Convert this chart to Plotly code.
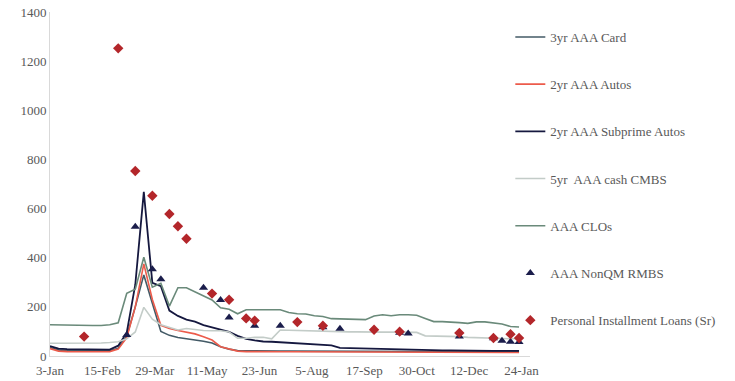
import pandas as pd
import plotly.graph_objects as go

# Weekly observations (Fridays), spreads in bp
dates = pd.date_range("2020-01-03", periods=56, freq="7D")

card_3yr = [35, 25, 22, 22, 21, 20, 20, 21, 32, 80, 200, 330, 215, 100, 84, 75,
            70, 66, 60, 53, 38, 28, 22, 21, 20, 20, 20, 20, 20, 20, 20, 20,
            20, 20, 20, 19, 19, 19, 19, 19, 19, 19, 19, 18, 18, 18, 18, 18,
            18, 18, 18, 18, 17, 17, 17, 17]
autos_2yr = [30, 20, 18, 17, 17, 17, 17, 18, 28, 75, 200, 375, 230, 125, 112, 104,
             98, 90, 78, 65, 38, 30, 20, 18, 17, 17, 17, 17, 17, 17, 17, 17,
             17, 17, 17, 17, 17, 17, 17, 17, 16, 16, 16, 16, 16, 16, 16, 16,
             15, 15, 15, 15, 15, 14, 14, 14]
subprime_2yr = [40, 30, 28, 28, 27, 26, 26, 26, 42, 95, 290, 668, 298, 284, 185, 163,
                148, 140, 126, 116, 106, 98, 82, 70, 64, 59, 58, 56, 54, 49, 47, 45,
                44, 43, 33, 32, 31, 30, 29, 28, 27, 26, 25, 25, 24, 24, 23, 23,
                22, 22, 22, 21, 21, 21, 21, 21]
cmbs_5yr = [52, 52, 51, 52, 52, 52, 53, 55, 58, 70, 98, 198, 150, 127, 117, 106,
            112, 107, 104, 103, 103, 98, 72, 72, 76, 76, 70, 106, 105, 104, 102, 100,
            100, 99, 99, 98, 98, 97, 97, 97, 97, 97, 97, 96, 82, 82, 82, 80,
            79, 76, 74, 73, 72, 71, 70, 70]
clo_aaa = [127, 126, 128, 127, 126, 124, 124, 127, 135, 255, 272, 402, 280, 296, 203, 278,
           278, 262, 243, 228, 196, 190, 172, 188, 188, 188, 188, 188, 177, 172, 171, 164,
           161, 152, 151, 151, 150, 148, 163, 168, 164, 168, 168, 166, 153, 140, 140, 139,
           136, 133, 139, 139, 134, 130, 120, 118]

# Sparse series (week index -> spread)
nonqm_weeks = [9, 10, 12, 13, 18, 20, 21, 24, 27, 32, 34, 41, 42, 48, 52, 53, 54, 55]
nonqm_vals = [85, 526, 353, 312, 278, 228, 157, 123, 123, 117, 111, 95, 92, 79, 72, 62, 58, 57]
pil_weeks = [4, 8, 10, 12, 14, 15, 16, 19, 21, 23, 24, 29, 32, 38, 41, 48, 52, 54, 55]
pil_vals = [79, 1252, 753, 652, 578, 528, 477, 254, 229, 153, 144, 138, 123, 107, 99, 94, 73, 89, 73]

tick_dates = ["2020-01-03", "2020-02-15", "2020-03-29", "2020-05-11", "2020-06-23",
              "2020-08-05", "2020-09-17", "2020-10-30", "2020-12-12", "2021-01-24"]
tick_text = ["3-Jan", "15-Feb", "29-Mar", "11-May", "23-Jun",
             "5-Aug", "17-Sep", "30-Oct", "12-Dec", "24-Jan"]
y_ticks = [0, 200, 400, 600, 800, 1000, 1200, 1400]

FONT = "Liberation Serif"
TEXT = "#595959"

fig = go.Figure()

lines = [
    ("3yr AAA Card", card_3yr, "#435a66", 1.6),
    ("2yr AAA Autos", autos_2yr, "#ec5b4b", 1.6),
    ("2yr AAA Subprime Autos", subprime_2yr, "#15183f", 1.8),
    ("5yr  AAA cash CMBS", cmbs_5yr, "#c3ccc8", 1.6),
    ("AAA CLOs", clo_aaa, "#6a8a7a", 1.6),
]
for i, (name, vals, color, w) in enumerate(lines):
    fig.add_trace(go.Scatter(
        x=dates, y=vals, mode="lines", name=name, legendgroup=f"g{i}",
        line=dict(color=color, width=w),
    ))

fig.add_trace(go.Scatter(
    x=dates[nonqm_weeks], y=nonqm_vals, mode="markers", name="AAA NonQM RMBS",
    legendgroup="g5",
    marker=dict(symbol="triangle-up", size=8, color="#1b1d4b"),
))
fig.add_trace(go.Scatter(
    x=dates[pil_weeks], y=pil_vals, mode="markers", name="Personal Installment Loans (Sr)",
    legendgroup="g6",
    marker=dict(symbol="diamond", size=8, color="#b3262a"),
))

fig.update_layout(
    width=735, height=381,
    margin=dict(l=50, r=205, t=12, b=25),
    paper_bgcolor="white", plot_bgcolor="white",
    font=dict(family=FONT, size=13, color=TEXT),
    showlegend=True,
    legend=dict(
        x=0.959, xanchor="left", y=0.971, yanchor="top",
        tracegroupgap=27.3, itemwidth=30,
        font=dict(family=FONT, size=13, color=TEXT),
        bgcolor="rgba(0,0,0,0)",
    ),
    xaxis=dict(
        type="date", range=["2020-01-03", "2021-01-31"],
        tickvals=tick_dates, ticktext=tick_text, automargin=False,
        ticklabelstandoff=2,
        showgrid=False, zeroline=False, showline=True, linecolor="#d9d9d9",
        linewidth=1, ticks="", tickfont=dict(size=13, color=TEXT),
    ),
    yaxis=dict(
        range=[0, 1400], tickvals=y_ticks, automargin=False,
        showgrid=False, zeroline=False, showline=True, linecolor="#d9d9d9",
        linewidth=1, ticks="", tickfont=dict(size=13, color=TEXT),
    ),
)

fig.write_html("out.html")
